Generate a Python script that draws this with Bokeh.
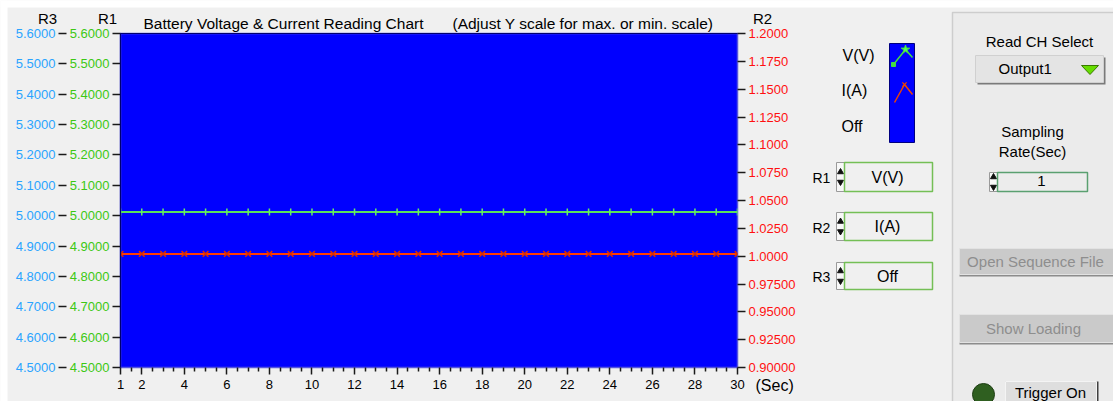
from bokeh.plotting import figure
from bokeh.models import (Range1d, LinearAxis, FixedTicker, CustomJSTickFormatter,
                          NumeralTickFormatter)
from bokeh.core.properties import value
from bokeh.embed import file_html
from bokeh.resources import INLINE

# ---------------- data ----------------
seconds = [1, 2, 3, 4, 5, 6, 7, 8, 9, 10, 11, 12, 13, 14, 15,
           16, 17, 18, 19, 20, 21, 22, 23, 24, 25, 26, 27, 28, 29, 30]
voltage = [5.012, 5.012, 5.012, 5.012, 5.012, 5.012, 5.012, 5.012, 5.012, 5.012,
           5.012, 5.012, 5.012, 5.012, 5.012, 5.012, 5.012, 5.012, 5.012, 5.012,
           5.012, 5.012, 5.012, 5.012, 5.012, 5.012, 5.012, 5.012, 5.012, 5.012]
current = [1.002, 1.002, 1.002, 1.002, 1.002, 1.002, 1.002, 1.002, 1.002, 1.002,
           1.002, 1.002, 1.002, 1.002, 1.002, 1.002, 1.002, 1.002, 1.002, 1.002,
           1.002, 1.002, 1.002, 1.002, 1.002, 1.002, 1.002, 1.002, 1.002, 1.002]

x_ticks = [1, 2, 4, 6, 8, 10, 12, 14, 16, 18, 20, 22, 24, 26, 28, 30]
x_minor = [1.5, 2.5, 3, 3.5, 4.5, 5, 5.5, 6.5, 7, 7.5, 8.5, 9, 9.5, 10.5, 11, 11.5,
           12.5, 13, 13.5, 14.5, 15, 15.5, 16.5, 17, 17.5, 18.5, 19, 19.5, 20.5, 21,
           21.5, 22.5, 23, 23.5, 24.5, 25, 25.5, 26.5, 27, 27.5, 28.5, 29, 29.5]
r1_ticks = [4.5, 4.6, 4.7, 4.8, 4.9, 5.0, 5.1, 5.2, 5.3, 5.4, 5.5, 5.6]
r3_ticks = [4.5, 4.6, 4.7, 4.8, 4.9, 5.0, 5.1, 5.2, 5.3, 5.4, 5.5, 5.6]
r2_ticks = [0.9, 0.925, 0.95, 0.975, 1.0, 1.025, 1.05, 1.075, 1.1, 1.125, 1.15, 1.175, 1.2]

channels = ["V(V)", "I(A)", "Off"]
selectors = ["R1", "R2", "R3"]

FONT = "Liberation Sans"
BG = "#f0f0f0"
W, H = 1113, 401

# ---------------- chart ----------------
chart = figure(width=W, height=H, x_range=Range1d(1, 30), y_range=Range1d(4.5, 5.6),
               output_backend="svg", toolbar_location=None, title=None,
               x_axis_type=None, y_axis_type=None,
               min_border_left=120, min_border_right=376, min_border_top=33,
               min_border_bottom=34,
               background_fill_color="#0000ff", border_fill_color=BG)
chart.outline_line_color = "#5656e0"
chart.outline_line_width = 1.5
chart.extra_y_ranges = {"r3": Range1d(4.5, 5.6), "r2": Range1d(0.9, 1.2)}


def style_y(ax, color):
    ax.axis_line_color = None
    ax.major_tick_line_color = "#1a1a1a"
    ax.major_tick_line_width = 1.5
    ax.major_tick_out = 8
    ax.major_tick_in = 0
    ax.minor_tick_line_color = None
    ax.major_label_text_color = color
    ax.major_label_text_font = FONT
    ax.major_label_text_font_size = "13px"
    ax.major_label_standoff = 3


r1_axis = LinearAxis(ticker=FixedTicker(ticks=r1_ticks),
                     formatter=NumeralTickFormatter(format="0.0000"))
style_y(r1_axis, "#3cc814")
r3_axis = LinearAxis(y_range_name="r3", ticker=FixedTicker(ticks=r3_ticks),
                     formatter=NumeralTickFormatter(format="0.0000"))
style_y(r3_axis, "#2aa4ff")
r2_axis = LinearAxis(y_range_name="r2", ticker=FixedTicker(ticks=r2_ticks),
                     formatter=CustomJSTickFormatter(
                         code="return tick >= 0.9999 ? tick.toFixed(4) : tick.toFixed(5);"))
style_y(r2_axis, "#ff1010")
chart.add_layout(r1_axis, "left")
chart.add_layout(r3_axis, "left")
chart.add_layout(r2_axis, "right")

x_axis = LinearAxis(ticker=FixedTicker(ticks=x_ticks, minor_ticks=x_minor))
x_axis.axis_line_color = None
x_axis.major_tick_line_color = "#1a1a1a"
x_axis.major_tick_line_width = 1.5
x_axis.major_tick_out = 7
x_axis.major_tick_in = 0
x_axis.minor_tick_line_color = "#1a1a1a"
x_axis.minor_tick_line_width = 1.5
x_axis.minor_tick_out = 4
x_axis.minor_tick_in = 0
x_axis.major_label_text_font = FONT
x_axis.major_label_text_font_size = "13px"
x_axis.major_label_text_color = "#000000"
x_axis.major_label_standoff = 5
chart.add_layout(x_axis, "below")

chart.line(seconds, voltage, line_color="#5ae05a", line_width=2)
chart.scatter(seconds, voltage, marker="dash", angle=1.5708, size=7,
              line_color="#66ee66", line_width=1.5)
chart.line(seconds, current, line_color="#ff3c00", line_width=2, y_range_name="r2")
chart.scatter(seconds, current, marker="x", size=8, line_color="#d83000", line_width=1.5,
              y_range_name="r2")

# ---------------- GUI overlay (page pixel coordinates) ----------------
gui = figure(width=W, height=H, x_range=Range1d(0, W), y_range=Range1d(H, 0),
             output_backend="svg", toolbar_location=None, title=None,
             x_axis_type=None, y_axis_type=None, min_border=0,
             background_fill_alpha=0, border_fill_alpha=0)
gui.outline_line_color = None
gui.styles = {"position": "absolute", "left": "0px", "top": "0px"}


def txt(x, y, s, size="15px", color="#000000", align="left"):
    gui.text(x=[x], y=[y], text=[s], text_font=value(FONT), text_font_size=value(size),
             text_color=color, text_align=value(align), text_baseline=value("middle"))


def box(l, t, r, b, fill, line=None, lw=1):
    gui.quad(left=[l], right=[r], top=[t], bottom=[b], fill_color=fill,
             line_color=line, line_width=lw)


# page border strips
box(0, 0, W, 7, "#ffffff")
box(0, 0, 7, H, "#ffffff")

# chart frame edge shading (sunken look)
gui.line([120, 120, 737], [367, 33, 33], line_color="#000070", line_width=1.2)

# chart texts
txt(143, 23, "Battery  Voltage & Current Reading Chart", size="15.5px")
txt(452, 23, "(Adjust Y scale for max. or min. scale)", size="15.5px")
txt(47, 18, "R3", align="center")
txt(107, 18, "R1", align="center")
txt(762, 18, "R2", align="center")
txt(755, 385, "(Sec)", size="16px")

# plot legend
txt(842, 55, channels[0], size="16px")
txt(841, 90, channels[1], size="16px")
txt(841, 126, channels[2], size="16px")
box(889, 43, 914, 142, "#0000ff", "#000080", 1)
gui.line([893, 905, 912], [64, 49, 57], line_color="#44dd44", line_width=1.5)
gui.scatter([905], [49], marker="star", size=9, fill_color="#55ff55", line_color="#44dd44")
gui.scatter([893], [64], marker="square", size=4, fill_color="#44dd44", line_color="#44dd44")
gui.line([894, 904, 912], [102, 84, 94], line_color="#ee4400", line_width=1.5)
gui.scatter([904], [84], marker="x", size=6, line_color="#ee4400", line_width=1.2)


def spinner(x, top, bottom):
    box(x, top, x + 8, bottom, "#f8f8f8", "#9a9a9a", 1)
    mid = (top + bottom) / 2
    gui.scatter([x + 4], [mid - 5], marker="triangle", size=6, fill_color="#101010",
                line_color="#101010")
    gui.scatter([x + 4], [mid + 5], marker="inverted_triangle", size=6,
                fill_color="#101010", line_color="#101010")


# channel selectors
for name, ch, top, bot in [(selectors[0], channels[0], 162, 191),
                           (selectors[1], channels[1], 212, 240),
                           (selectors[2], channels[2], 262, 289)]:
    txt(812, (top + bot) / 2 + 1, name, size="14px")
    spinner(836, top, bot)
    box(844, top, 932, bot, "#f0f0f0", "#74bf56", 1.5)
    txt(887, (top + bot) / 2, ch, size="16px", align="center")

# right control panel
box(952, 12, 1125, 420, "#ebebeb", "#cdcdcd", 1.5)
txt(1039, 41, "Read CH Select", align="center")
box(977, 57, 1105, 84, "#7a7a7a")
box(975, 55, 1103, 82, "#e4e4e4", "#d0d0d0", 1)
txt(998, 68, "Output1")
gui.patch([1081, 1098, 1089.5], [65, 65, 74], fill_color="#66dd00", line_color="#3a7a00",
          line_width=1)
txt(1032, 131, "Sampling", align="center")
txt(1032, 151, "Rate(Sec)", align="center")
spinner(989, 172, 191)
box(997, 172, 1087, 191, "#ececec", "#5aa070", 1.5)
txt(1041, 180, "1", align="center")

box(959, 250, 1125, 276, "#8c8c8c")
box(959, 248, 1125, 274, "#cacaca", "#e2e2e2", 1)
txt(1035, 261, "Open Sequence File", color="#8e8e8e", align="center")
box(959, 316, 1125, 344, "#8c8c8c")
box(959, 314, 1125, 342, "#cacaca", "#e2e2e2", 1)
txt(1033, 328, "Show Loading", color="#8e8e8e", align="center")

gui.scatter([983], [394], marker="circle", size=22, fill_color="#2f5f20",
            line_color="#1e3e14", line_width=1)
box(1005, 381, 1098, 410, "#404040")
box(1005, 381, 1096, 410, "#dedede", "#f4f4f4", 1)
txt(1050, 392, "Trigger On", align="center")

open("out.html", "w").write(file_html([chart, gui], INLINE))
